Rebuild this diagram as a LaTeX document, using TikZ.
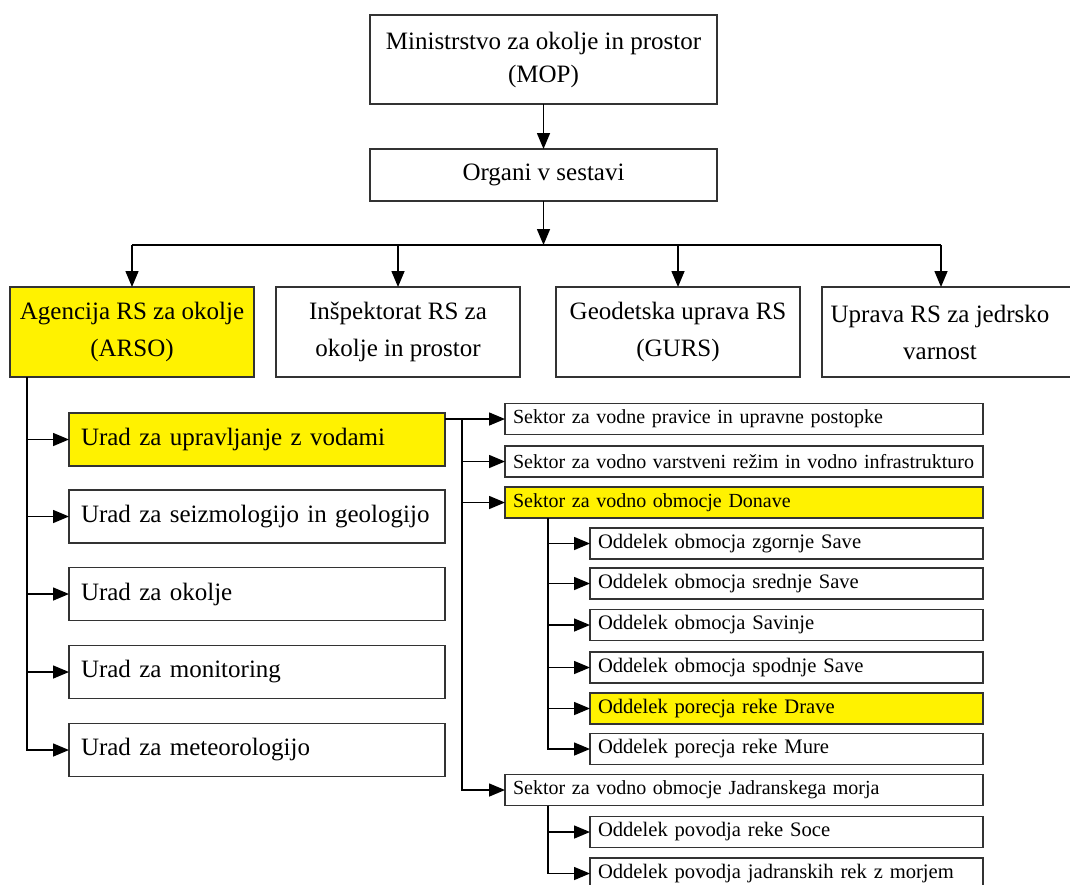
\documentclass[tikz,border=0pt]{standalone}
\usepackage{fontspec}
\setmainfont{Liberation Serif}
\usetikzlibrary{arrows.meta}
\begin{document}
\begin{tikzpicture}[x=1pt,y=-1pt,
  box/.style={draw=black!80, line width=1.6pt, inner sep=0pt, outer sep=0pt, align=center, font=\fontsize{25}{33}\selectfont},
  ybox/.style={fill=yellow},
  bigbox/.style={box, minimum width=347pt},
  lvl/.style={box, minimum height=90pt, font=\fontsize{25}{37}\selectfont},
  urad/.style={box, text width=352pt, inner xsep=12pt, minimum height=53pt, align=left},
  sek/.style={box, text width=462pt, inner xsep=8pt, minimum height=31pt, align=left, font=\fontsize{20}{24}\selectfont},
  odd/.style={box, text width=377pt, inner xsep=8pt, minimum height=31pt, align=left, font=\fontsize{20.6}{24}\selectfont},
  conn/.style={line width=1.5pt},
  arr/.style={conn, -{Triangle[length=16pt,width=13pt]}}
]
\useasboundingbox (0,0) rectangle (1070,884);
\fill[white] (0,0) rectangle (1070,884);

% top
\node[bigbox, minimum height=89pt] (top) at (543.5,59.5) {Ministrstvo za okolje in prostor\\(MOP)};
\node[bigbox, minimum height=52pt] (organi) at (543.5,175) {Organi v sestavi};

% level
\node[lvl, ybox, minimum width=244pt] (arso) at (132,332) {Agencija RS za okolje\\(ARSO)};
\node[lvl, minimum width=244pt] (insp) at (398,332) {Inšpektorat RS za\\okolje in prostor};
\node[lvl, minimum width=244pt] (geo) at (678,332) {Geodetska uprava RS\\(GURS)};
\node[lvl, minimum width=254pt] (uprava) at (949,332) {Uprava RS za jedrsko\hspace*{18pt}\\varnost\hspace*{18pt}};

% urad
\node[urad, ybox] (u1) at (257,439.5) {Urad za upravljanje z vodami};
\node[urad] (u2) at (257,516.5) {Urad za seizmologijo in geologijo};
\node[urad] (u3) at (257,594) {Urad za okolje};
\node[urad] (u4) at (257,672) {Urad za monitoring};
\node[urad] (u5) at (257,750) {Urad za meteorologijo};

% sektorji
\node[sek] (s1) at (744,419) {Sektor za vodne pravice in upravne postopke};
\node[sek] (s2) at (744,461.5) {Sektor za vodno varstveni režim in vodno infrastrukturo};
\node[sek, ybox] (s3) at (744,502.5) {Sektor za vodno obmocje Donave};
\node[sek] (jad) at (744,790) {Sektor za vodno obmocje Jadranskega morja};

% oddelki
\node[odd] (o1) at (786.5,543.5) {Oddelek obmocja zgornje Save};
\node[odd] (o2) at (786.5,583.5) {Oddelek obmocja srednje Save};
\node[odd] (o3) at (786.5,625) {Oddelek obmocja Savinje};
\node[odd] (o4) at (786.5,667.5) {Oddelek obmocja spodnje Save};
\node[odd, ybox] (o5) at (786.5,708.5) {Oddelek porecja reke Drave};
\node[odd] (o6) at (786.5,749) {Oddelek porecja reke Mure};
\node[odd] (o7) at (786.5,832) {Oddelek povodja reke Soce};
\node[odd] (o8) at (786.5,873.5) {Oddelek povodja jadranskih rek z morjem};

% connectors top
\draw[arr] (top) -- (organi);
\coordinate (bus) at (543.5,245);
\draw[arr] (organi.south) -- (bus);
\coordinate (uprin) at ([xshift=-8pt]uprava.north);
\draw[conn] (bus -| arso.north) -- (bus -| uprin);
\foreach \n in {arso.north, insp.north, geo.north, uprin}
  \draw[arr] (bus -| \n) -- (\n);

% ARSO
\coordinate (a0) at ([xshift=17pt]arso.south west);
\foreach \n in {u1,u2,u3,u4,u5}
  \draw[arr] (a0) |- (\n.west);

% vodami
\draw[arr] (u1.east |- s1.west) -- (s1.west);
\coordinate (v0) at ([xshift=-43pt]s1.west);
\foreach \n in {s2,s3,jad}
  \draw[arr] (v0) |- (\n.west);

% Donava
\coordinate (d0) at ([xshift=43pt]s3.south west);
\foreach \n in {o1,o2,o3,o4,o5,o6}
  \draw[arr] (d0) |- (\n.west);

% Jadran
\coordinate (j0) at ([xshift=43pt]jad.south west);
\foreach \n in {o7,o8}
  \draw[arr] (j0) |- (\n.west);
\end{tikzpicture}
\end{document}
